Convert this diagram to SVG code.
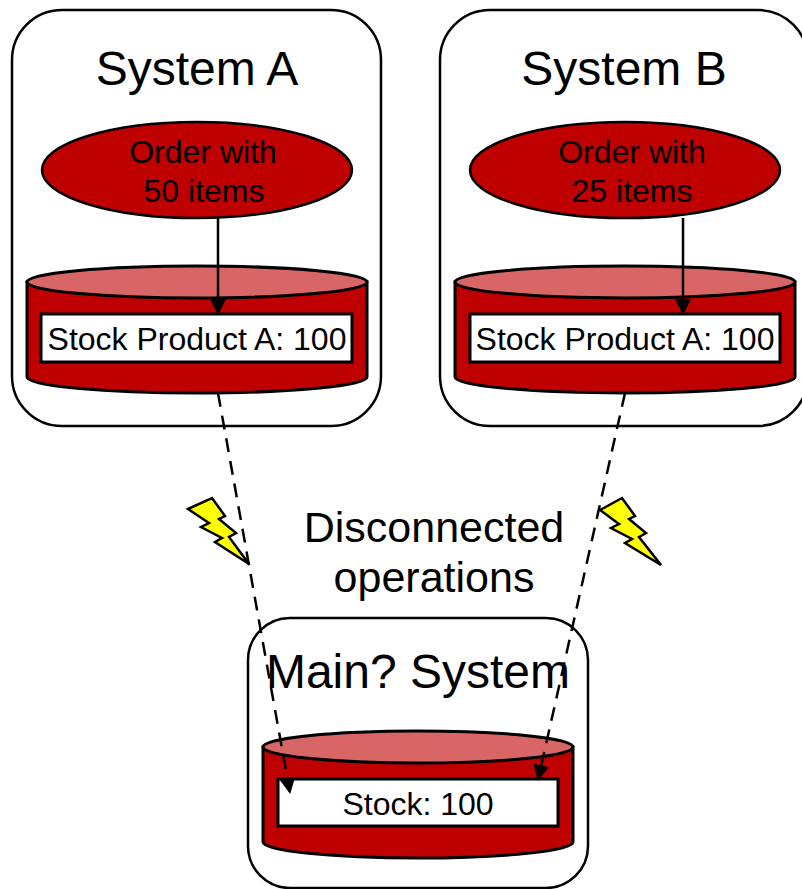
<svg xmlns="http://www.w3.org/2000/svg" width="802" height="889" viewBox="0 0 802 889">
<style>
text{font-family:"Liberation Sans",Arial,sans-serif;fill:#000;text-anchor:middle}
.sys{fill:#fff;stroke:#000;stroke-width:2.5}
.t{font-size:48px}
.cap{font-size:43px}
.body{fill:#bf0000;stroke:#000;stroke-width:3}
.top{fill:#d96666;stroke:#000;stroke-width:3}
.box{fill:#fff;stroke:#000;stroke-width:3}
.l{font-size:32px}
.e{fill:#bf0000;stroke:#000;stroke-width:2.5}
.c{fill:none;stroke:#000;stroke-width:2.5}
.d{stroke-dasharray:14 9}
.bolt{fill:#ff0;stroke:#000;stroke-width:2.5;stroke-linejoin:miter}
</style>
<defs>
<marker id="a" markerUnits="userSpaceOnUse" markerWidth="18" markerHeight="18" refX="15" refY="8" orient="auto"><path d="M0 0L16 8L0 16Z" fill="#000"/></marker>
</defs>
<g id="system-a">
<rect class="sys" x="12" y="10" width="369" height="416" rx="50"/>
<text class="t" x="197" y="85">System A</text>
</g>
<g id="system-b">
<rect class="sys" x="440" y="10" width="368" height="416" rx="50"/>
<text class="t" x="624" y="85">System B</text>
</g>
<g id="main-system">
<rect class="sys" x="248" y="618" width="340" height="270" rx="42"/>
<text class="t" x="418" y="688">Main? System</text>
</g>
<g id="order-a">
<ellipse class="e" cx="197" cy="170" rx="155" ry="48"/>
<text class="l" x="203" y="163">Order with</text>
<text class="l" x="204" y="202">50 items</text>
</g>
<g id="order-b">
<ellipse class="e" cx="625" cy="170" rx="155" ry="48"/>
<text class="l" x="632" y="163">Order with</text>
<text class="l" x="632" y="202">25 items</text>
</g>
<g id="db-a">
<path class="body" d="M27 282V377A170 16 0 0 0 367 377V282Z"/>
<ellipse class="top" cx="197" cy="282" rx="170" ry="16"/>
<rect class="box" x="41" y="314" width="311" height="48"/>
<text class="l" x="197" y="350">Stock Product A: 100</text>
</g>
<g id="db-b">
<path class="body" d="M455 282V377A170 16 0 0 0 795 377V282Z"/>
<ellipse class="top" cx="625" cy="282" rx="170" ry="16"/>
<rect class="box" x="470" y="314" width="310" height="48"/>
<text class="l" x="625" y="350">Stock Product A: 100</text>
</g>
<g id="db-main">
<path class="body" d="M263 747V842A155 16 0 0 0 573 842V747Z"/>
<ellipse class="top" cx="418" cy="747" rx="155" ry="16"/>
<rect class="box" x="278" y="779" width="280" height="47"/>
<text class="l" x="418" y="815">Stock: 100</text>
</g>
<g id="connectors">
<path class="c" d="M218 218V314" marker-end="url(#a)"/>
<path class="c" d="M683 218V314" marker-end="url(#a)"/>
<path class="c d" d="M218 393L290 793" marker-end="url(#a)"/>
<path class="c d" d="M625 393L538 780" marker-end="url(#a)"/>
</g>
<g id="bolt-a"><path class="bolt" d="M188 509L212 498L225 516L219 519L236 533L229 537L249 564L215 542L222 538L201 527L209 523Z"/></g>
<g id="bolt-b"><path class="bolt" d="M600 510L622 498L635 516L629 519L646 533L639 537L661 565L625 543L632 539L611 528L619 524Z"/></g>
<g id="caption">
<text class="cap" x="434" y="542">Disconnected</text>
<text class="cap" x="434" y="592">operations</text>
</g>
</svg>
